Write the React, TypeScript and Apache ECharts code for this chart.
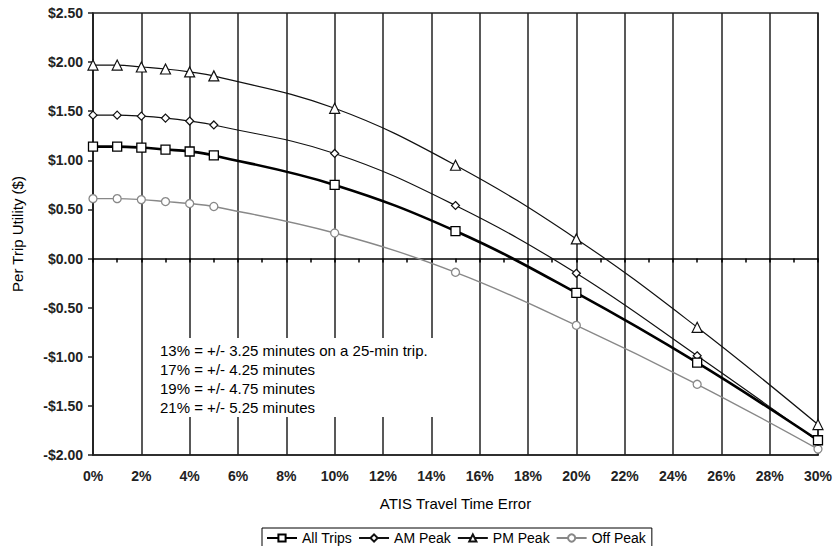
import React, { useEffect, useRef } from "react";
import * as echarts from "echarts";

const errorPct = [0, 1, 2, 3, 4, 5, 10, 15, 20, 25, 30];
const allTrips = [1.14, 1.14, 1.13, 1.11, 1.09, 1.05, 0.75, 0.28, -0.35, -1.06, -1.85];
const amPeak = [1.46, 1.46, 1.45, 1.43, 1.4, 1.36, 1.07, 0.54, -0.15, -0.99, -1.86];
const pmPeak = [1.97, 1.97, 1.95, 1.93, 1.9, 1.86, 1.53, 0.95, 0.2, -0.7, -1.69];
const offPeak = [0.61, 0.61, 0.6, 0.58, 0.56, 0.53, 0.26, -0.14, -0.68, -1.28, -1.94];
const seriesNames = ["All Trips", "AM Peak", "PM Peak", "Off Peak"];
const noteLines = [
  "13% = +/- 3.25 minutes on a 25-min trip.",
  "17% = +/- 4.25 minutes",
  "19% = +/- 4.75 minutes",
  "21% = +/- 5.25 minutes",
];

const FONT = "'Liberation Sans', Arial, sans-serif";

function pairs(ys: number[]) {
  return errorPct.map((x, i) => [x, ys[i]]);
}

function fmtDollar(v: number) {
  const s = "$" + Math.abs(v).toFixed(2);
  return v < 0 ? "-" + s : s;
}

export default function App() {
  const ref = useRef<HTMLDivElement>(null);
  useEffect(() => {
    if (!ref.current) return;
    const chart = echarts.init(ref.current, null, { renderer: "svg" });
    const hollow = (c: string, w: number) => ({ color: "#fff", borderColor: c, borderWidth: w });
    chart.setOption({
      animation: false,
      textStyle: { fontFamily: FONT },
      grid: {
        left: 93,
        right: 13,
        top: 13,
        bottom: 91,
        show: true,
        borderColor: "#222",
        borderWidth: 1.5,
        containLabel: false,
      },
      legend: {
        data: seriesNames,
        bottom: -4,
        left: 262,
        borderColor: "#000",
        borderWidth: 1,
        padding: [3, 6, 5, 4],
        itemGap: 6,
        itemWidth: 30,
        itemHeight: 9,
        textStyle: { fontSize: 14, color: "#000", fontFamily: FONT },
      },
      xAxis: [
        {
          type: "value",
          min: 0,
          max: 30,
          interval: 2,
          name: "ATIS Travel Time Error",
          nameLocation: "middle",
          nameGap: 41,
          nameTextStyle: { fontSize: 15, color: "#000", fontFamily: FONT },
          axisLine: { onZero: false, lineStyle: { color: "#222", width: 1.5 } },
          axisTick: { show: false },
          axisLabel: {
            formatter: (v: number) => v + "%",
            fontSize: 14,
            fontWeight: "bold",
            color: "#222",
            margin: 14,
            fontFamily: FONT,
          },
          splitLine: { show: true, lineStyle: { color: "#222", width: 1.5 } },
        },
        {
          type: "value",
          min: 0,
          max: 30,
          interval: 1,
          position: "bottom",
          axisLine: { show: true, onZero: true, lineStyle: { color: "#000", width: 1.5 } },
          axisTick: { show: true, length: 4, lineStyle: { color: "#000", width: 1.5 } },
          axisLabel: { show: false },
          splitLine: { show: false },
        },
      ],
      yAxis: {
        type: "value",
        min: -2,
        max: 2.5,
        interval: 0.5,
        name: "Per Trip Utility ($)",
        nameLocation: "middle",
        nameGap: 68,
        nameTextStyle: { fontSize: 15, color: "#000", fontFamily: FONT },
        axisLine: { show: true, lineStyle: { color: "#222", width: 1.5 } },
        axisTick: { show: true, length: 5, lineStyle: { color: "#222", width: 1.5 } },
        axisLabel: {
          formatter: fmtDollar,
          fontSize: 14,
          fontWeight: "bold",
          color: "#222",
          margin: 10,
          fontFamily: FONT,
        },
        splitLine: { show: false },
      },
      graphic: [
        {
          type: "rect",
          z: 100,
          shape: { x: 150, y: 338, width: 290, height: 79 },
          style: { fill: "#fff" },
        },
        {
          type: "text",
          z: 101,
          x: 160,
          y: 341,
          style: {
            text: noteLines.join("\n"),
            fontSize: 15,
            lineHeight: 19,
            fill: "#000",
            fontFamily: FONT,
            verticalAlign: "top",
          },
        },
      ],
      series: [
        {
          name: seriesNames[0],
          type: "line",
          xAxisIndex: 0,
          data: pairs(allTrips),
          smooth: 0.4,
          symbol: "rect",
          symbolSize: 9,
          z: 5,
          lineStyle: { color: "#000", width: 2.6 },
          itemStyle: hollow("#000", 1.3),
        },
        {
          name: seriesNames[1],
          type: "line",
          xAxisIndex: 0,
          data: pairs(amPeak),
          smooth: 0.4,
          symbol: "diamond",
          symbolSize: 8,
          z: 4,
          lineStyle: { color: "#111", width: 1.2 },
          itemStyle: hollow("#111", 1.2),
        },
        {
          name: seriesNames[2],
          type: "line",
          xAxisIndex: 0,
          data: pairs(pmPeak),
          smooth: 0.4,
          symbol: "triangle",
          symbolSize: 10,
          z: 3,
          lineStyle: { color: "#111", width: 1.2 },
          itemStyle: hollow("#111", 1.2),
        },
        {
          name: seriesNames[3],
          type: "line",
          xAxisIndex: 0,
          data: pairs(offPeak),
          smooth: 0.4,
          symbol: "circle",
          symbolSize: 8,
          z: 2,
          lineStyle: { color: "#888", width: 1.4 },
          itemStyle: hollow("#888", 1.3),
        },
      ],
    });
    return () => chart.dispose();
  }, []);
  return (
    <div
      ref={ref}
      style={{ position: "fixed", left: 0, top: 0, width: 835, height: 546, background: "#fff" }}
    />
  );
}
